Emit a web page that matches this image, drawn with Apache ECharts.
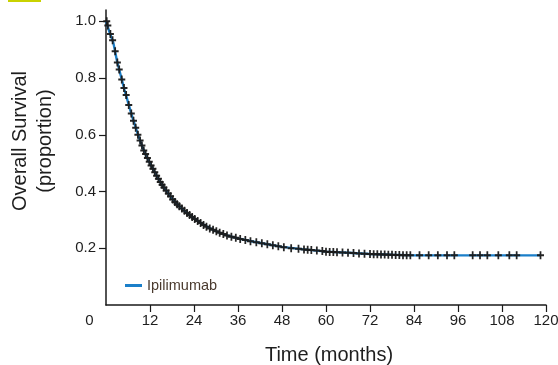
<!DOCTYPE html>
<html>
<head>
<meta charset="utf-8">
<script src="https://cdn.jsdelivr.net/npm/echarts@6/dist/echarts.min.js"></script>
<style>
html,body{margin:0;padding:0;background:#fff;}
#chart{width:558px;height:365px;}
</style>
</head>
<body>
<div id="chart"></div>
<script>
// ---- Data ----
var seriesName = 'Ipilimumab';
var xTickValues = [12, 24, 36, 48, 60, 72, 84, 96, 108, 120];
var xLabelValues = [0, 12, 24, 36, 48, 60, 72, 84, 96, 108, 120];
var yTickValues = [0.2, 0.4, 0.6, 0.8, 1.0];

// Kaplan-Meier curve (months, proportion surviving)
var curveT = [0, 0.3, 1, 2, 3, 4, 5, 6, 7, 8, 9, 10, 11, 12, 13, 14, 15, 16, 18, 20, 22, 24, 26, 28, 30, 33, 36, 40, 44, 48, 54, 60, 66, 72, 78, 84, 100, 118.5];
var curveS = [1.0, 0.995, 0.96, 0.925, 0.86, 0.81, 0.76, 0.715, 0.67, 0.63, 0.59, 0.555, 0.525, 0.50, 0.475, 0.452, 0.43, 0.41, 0.375, 0.348, 0.325, 0.305, 0.288, 0.273, 0.26, 0.245, 0.235, 0.224, 0.214, 0.205, 0.196, 0.188, 0.184, 0.18, 0.177, 0.175, 0.175, 0.175];

// Censoring marks (months, proportion)
var censorT = [0.2, 0.5, 1.2, 1.8, 2.5, 3.1, 3.6, 4.3, 4.9, 5.5, 6.2, 6.9, 7.5, 8.1, 8.7, 9.3, 9.8, 10.3, 10.8, 11.3, 11.8, 12.3, 12.8, 13.3, 13.8, 14.3, 14.8, 15.3, 15.8, 16.4, 17.0, 17.6, 18.2, 18.8, 19.4, 20.0, 20.7, 21.4, 22.1, 22.8, 23.5, 24.2, 25.0, 25.8, 26.6, 27.4, 28.3, 29.2, 30.1, 31.0, 32.0, 33.0, 34.2, 35.4, 36.6, 38.0, 39.4, 41.0, 42.5, 44.0, 45.5, 47.0, 48.5, 50.5, 52.5, 54.0, 55.0, 56.0, 57.5, 59.0, 60.0, 61.0, 62.0, 63.0, 64.5, 66.0, 67.5, 69.0, 70.5, 72.0, 73.0, 74.0, 75.0, 76.0, 77.0, 78.0, 79.0, 80.0, 81.0, 82.0, 83.0, 85.5, 88.0, 90.5, 93.0, 95.0, 100.0, 102.0, 104.0, 107.0, 110.0, 112.0, 118.5];
var censorS = [1.0, 0.985, 0.955, 0.933, 0.895, 0.855, 0.83, 0.795, 0.765, 0.74, 0.705, 0.675, 0.65, 0.625, 0.60, 0.58, 0.562, 0.545, 0.532, 0.518, 0.505, 0.492, 0.48, 0.468, 0.456, 0.445, 0.434, 0.424, 0.414, 0.404, 0.393, 0.383, 0.372, 0.363, 0.355, 0.348, 0.34, 0.332, 0.324, 0.317, 0.31, 0.303, 0.296, 0.289, 0.282, 0.276, 0.27, 0.265, 0.26, 0.255, 0.25, 0.245, 0.241, 0.237, 0.233, 0.229, 0.225, 0.221, 0.218, 0.214, 0.211, 0.207, 0.204, 0.20, 0.198, 0.196, 0.195, 0.194, 0.192, 0.19, 0.188, 0.187, 0.187, 0.186, 0.185, 0.184, 0.183, 0.182, 0.181, 0.18, 0.179, 0.179, 0.178, 0.178, 0.177, 0.177, 0.176, 0.176, 0.175, 0.175, 0.175, 0.175, 0.175, 0.175, 0.175, 0.175, 0.175, 0.175, 0.175, 0.175, 0.175, 0.175, 0.175];

// ---- Build ----
var curveData = curveT.map(function (t, i) { return [t, curveS[i]]; });
var censorData = censorT.map(function (t, i) { return [t, censorS[i]]; });

var FONT = '"Liberation Sans", Arial, sans-serif';
var TXT = '#1e1e1e';
var AX = '#1a1a1a';

var chart = echarts.init(document.getElementById('chart'), null, {renderer: 'canvas'});
chart.setOption({
  animation: false,
  backgroundColor: '#fff',
  grid: {left: 106, right: 12, top: 10, bottom: 60, containLabel: false, outerBoundsMode: 'none'},
  legend: {
    data: [seriesName],
    left: 120, top: 273,
    icon: 'rect', itemWidth: 17, itemHeight: 3,
    textStyle: {fontFamily: FONT, fontSize: 14.5, color: '#4a3a2e'}
  },
  xAxis: {
    type: 'value', min: 0, max: 120, interval: 12,
    name: 'Time (months)', nameLocation: 'middle', nameGap: 40,
    nameTextStyle: {fontFamily: FONT, fontSize: 20, color: TXT, padding: [0, 0, 0, 6]},
    axisLine: {lineStyle: {color: AX, width: 1.5}},
    axisTick: {show: true, length: 7, customValues: xTickValues, lineStyle: {color: AX, width: 1.2}},
    axisLabel: {
      customValues: xLabelValues, margin: 8,
      fontFamily: FONT, fontSize: 15, color: TXT,
      formatter: function (v) { return v === 0 ? '{z|0}' : String(v); },
      rich: {z: {fontFamily: FONT, fontSize: 15, color: TXT, padding: [0, 33, 0, 0]}}
    },
    splitLine: {show: false}
  },
  yAxis: {
    type: 'value', min: 0, max: 1.04,
    axisLine: {show: true, lineStyle: {color: AX, width: 1.5}},
    axisTick: {show: true, length: 7, customValues: yTickValues, lineStyle: {color: AX, width: 1.2}},
    axisLabel: {
      customValues: yTickValues, margin: 10,
      fontFamily: FONT, fontSize: 15, color: TXT,
      formatter: function (v) { return v.toFixed(1); }
    },
    splitLine: {show: false}
  },
  graphic: [
    {type: 'rect', left: 8, top: 0, shape: {width: 33, height: 2}, style: {fill: '#c9d200'}, silent: true},
    {type: 'text', x: 33, y: 141, rotation: Math.PI / 2,
     style: {text: 'Overall Survival\n(proportion)', fontFamily: FONT, fontSize: 20, lineHeight: 25,
             fill: TXT, align: 'center', verticalAlign: 'middle'}}
  ],
  series: [
    {
      name: seriesName, type: 'line', data: curveData,
      showSymbol: false, symbol: 'none',
      lineStyle: {color: '#1b7fc9', width: 2.4},
      itemStyle: {color: '#1b7fc9'},
      z: 2
    },
    {
      name: 'censored', type: 'scatter', data: censorData,
      symbol: 'path://M3,0h2v3h3v2h-3v3h-2v-3h-3v-2h3z',
      symbolSize: [7, 8],
      itemStyle: {color: '#1a1a1a', opacity: 0.95},
      z: 3
    }
  ]
});
</script>
</body>
</html>
